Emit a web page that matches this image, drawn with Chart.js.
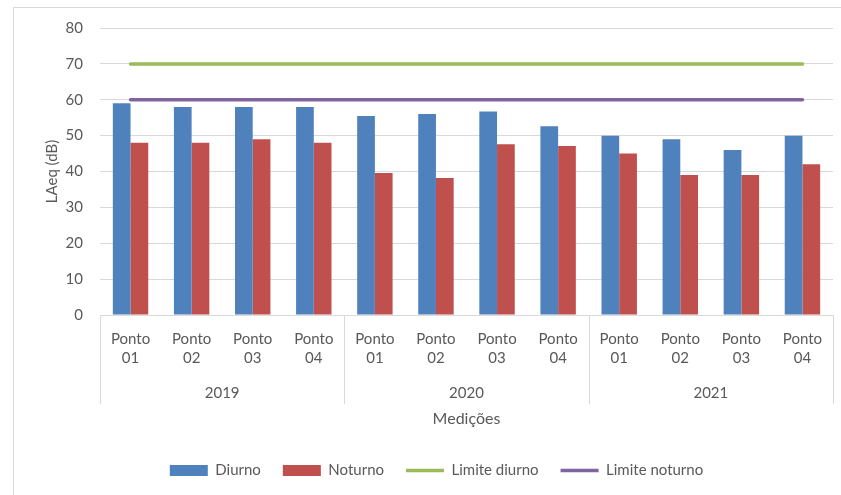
<!DOCTYPE html>
<html>
<head>
  <title>LAeq por ponto de medição</title>
  <script src="https://cdn.jsdelivr.net/npm/chart.js"></script>
  <style>
    body {
      margin: 0;
      background: #fff;
    }
    canvas {
      display: block;
    }
  </style>
</head>
<body>
  <canvas id="laeqChart" width="841" height="495"></canvas>

  <script>
    // dados
    const anos = ['2019', '2020', '2021'];
    const pontos = [
      ['Ponto', '01'], ['Ponto', '02'], ['Ponto', '03'], ['Ponto', '04'],
      ['Ponto', '01'], ['Ponto', '02'], ['Ponto', '03'], ['Ponto', '04'],
      ['Ponto', '01'], ['Ponto', '02'], ['Ponto', '03'], ['Ponto', '04']
    ];
    const diurno = [59, 58, 58, 58, 55.5, 56, 56.7, 52.6, 50, 49, 46, 50];
    const noturno = [48, 48, 49, 48, 39.6, 38.2, 47.6, 47.1, 45, 39, 39, 42];
    const limiteDiurno = [70, 70, 70, 70, 70, 70, 70, 70, 70, 70, 70, 70];
    const limiteNoturno = [60, 60, 60, 60, 60, 60, 60, 60, 60, 60, 60, 60];
    const yTicks = [0, 10, 20, 30, 40, 50, 60, 70, 80];

    const cinza = '#595959';
    const linhaGrade = '#d9d9d9';
    const fonte = { family: 'Lato, sans-serif', size: 15 };

    // moldura da área do gráfico
    const moldura = {
      id: 'moldura',
      beforeDraw(chart) {
        const ctx = chart.ctx;
        ctx.save();
        ctx.fillStyle = '#fff';
        ctx.fillRect(0, 0, chart.width, chart.height);
        ctx.strokeStyle = linhaGrade;
        ctx.lineWidth = 1;
        ctx.strokeRect(13.5, 7.5, chart.width, chart.height);
        ctx.restore();
      }
    };

    // segunda linha do eixo x: anos e divisões entre grupos
    const linhaAnos = {
      id: 'linhaAnos',
      afterDraw(chart) {
        const x = chart.scales.x;
        const ctx = chart.ctx;
        const porAno = pontos.length / anos.length;
        const top = x.top;
        const edges = [x.left];
        for (let g = 1; g < anos.length; g++) {
          const i = g * porAno;
          edges.push((x.getPixelForValue(i - 1) + x.getPixelForValue(i)) / 2);
        }
        edges.push(x.right);

        ctx.save();
        ctx.strokeStyle = linhaGrade;
        ctx.lineWidth = 1;
        edges.forEach(e => {
          const px = Math.round(e) + 0.5;
          ctx.beginPath();
          ctx.moveTo(px, top);
          ctx.lineTo(px, top + 89);
          ctx.stroke();
        });
        ctx.fillStyle = cinza;
        ctx.font = fonte.size + 'px ' + fonte.family;
        ctx.textAlign = 'center';
        ctx.textBaseline = 'middle';
        anos.forEach((a, g) => {
          ctx.fillText(a, (edges[g] + edges[g + 1]) / 2, top + 78);
        });
        ctx.restore();
      }
    };

    const ctx = document.getElementById('laeqChart').getContext('2d');
    const chart = new Chart(ctx, {
      data: {
        labels: pontos,
        datasets: [
          {
            type: 'bar',
            label: 'Diurno',
            data: diurno,
            backgroundColor: '#4f81bd',
            categoryPercentage: 0.58,
            barPercentage: 1,
            order: 3
          },
          {
            type: 'bar',
            label: 'Noturno',
            data: noturno,
            backgroundColor: '#c0504d',
            categoryPercentage: 0.58,
            barPercentage: 1,
            order: 4
          },
          {
            type: 'line',
            label: 'Limite diurno',
            data: limiteDiurno,
            borderColor: '#9bbb59',
            backgroundColor: '#9bbb59',
            borderWidth: 3.5,
            borderCapStyle: 'round',
            pointRadius: 0,
            order: 1
          },
          {
            type: 'line',
            label: 'Limite noturno',
            data: limiteNoturno,
            borderColor: '#8064a2',
            backgroundColor: '#8064a2',
            borderWidth: 3.5,
            borderCapStyle: 'round',
            pointRadius: 0,
            order: 2
          }
        ]
      },
      options: {
        responsive: false,
        animation: false,
        layout: {
          padding: { left: 40, right: 8, top: 28, bottom: 7 }
        },
        scales: {
          x: {
            grid: { display: false, drawTicks: false },
            border: { display: true, color: linhaGrade },
            ticks: {
              color: cinza,
              font: { ...fonte, lineHeight: 1.27 },
              padding: 15,
              autoSkip: false,
              maxRotation: 0
            },
            title: {
              display: true,
              text: 'Medições',
              color: cinza,
              font: { ...fonte, size: 16 },
              padding: { top: 0, bottom: 13 }
            },
            afterFit(scale) {
              scale.height = 126;
            }
          },
          y: {
            min: 0,
            max: 80,
            afterBuildTicks(scale) {
              scale.ticks = yTicks.map(v => ({ value: v }));
            },
            grid: { color: linhaGrade, drawTicks: false },
            border: { display: false },
            ticks: {
              color: cinza,
              font: fonte,
              padding: 17
            },
            title: {
              display: true,
              text: 'LAeq (dB)',
              color: cinza,
              font: fonte,
              padding: { top: 3, bottom: 0 }
            },
            afterFit(scale) {
              scale.width = 60;
            }
          }
        },
        plugins: {
          legend: {
            position: 'bottom',
            labels: {
              color: cinza,
              font: fonte,
              usePointStyle: true,
              pointStyleWidth: 38,
              boxWidth: 38,
              boxHeight: 11,
              padding: 22,
              generateLabels(chart) {
                const items = Chart.defaults.plugins.legend.labels.generateLabels(chart);
                items.forEach(item => {
                  const ds = chart.data.datasets[item.datasetIndex];
                  item.pointStyle = ds.type === 'line' ? 'line' : 'rect';
                });
                return items.sort((a, b) => a.datasetIndex - b.datasetIndex);
              }
            }
          },
          tooltip: { enabled: false }
        }
      },
      plugins: [moldura, linhaAnos]
    });
  </script>
</body>
</html>
